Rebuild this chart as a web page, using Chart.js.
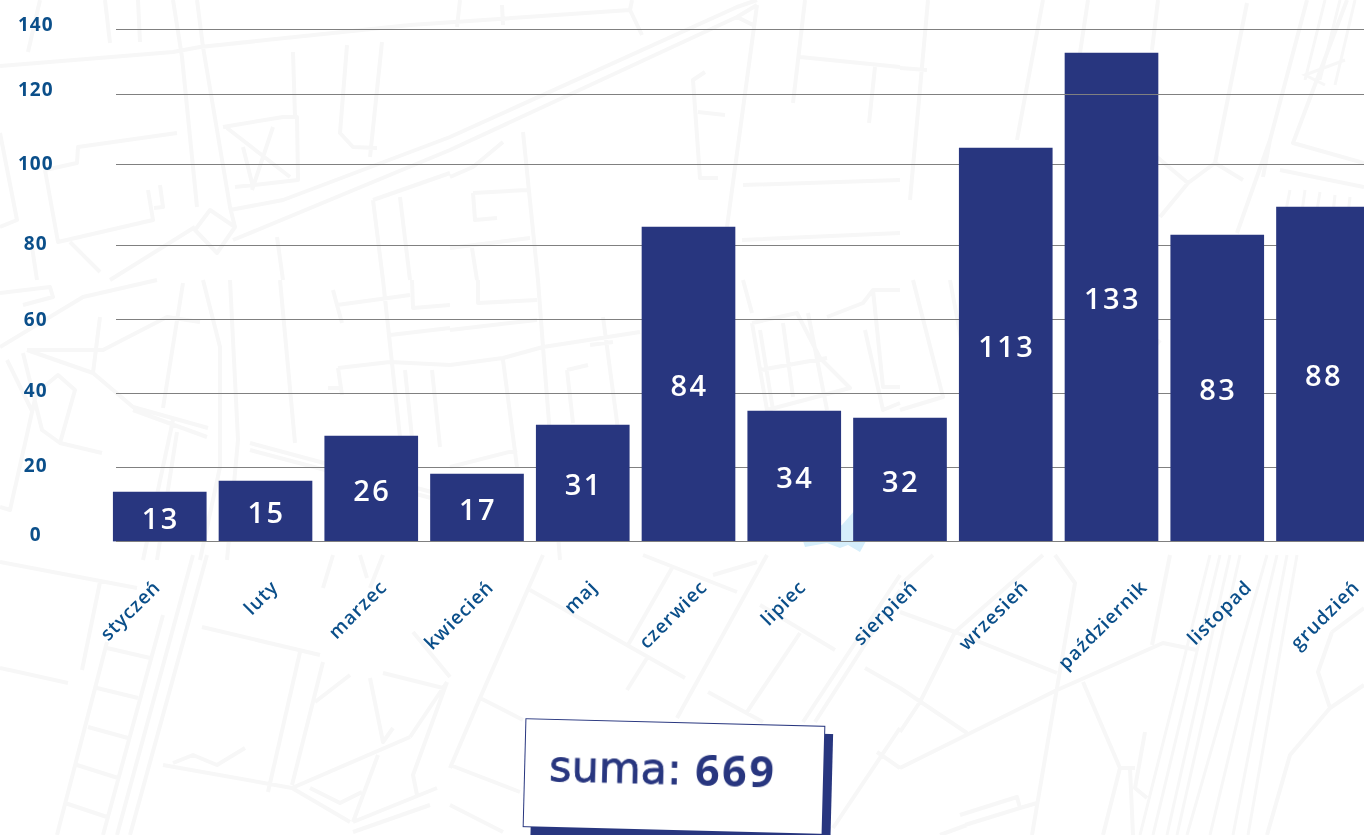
<!DOCTYPE html>
<html lang="pl">
<head>
<meta charset="utf-8">
<title>Wykres</title>
<script src="https://cdn.jsdelivr.net/npm/chart.js@4/dist/chart.umd.min.js"></script>
<style>
html,body{margin:0;padding:0;width:1364px;height:835px;overflow:hidden;background:#fff}
#map{position:absolute;left:0;top:0;width:1364px;height:835px;z-index:0}
#wrap{position:absolute;left:0;top:0;width:1400px;height:835px;z-index:1}
#box{position:absolute;left:524px;top:721.5px;width:298px;height:106.5px;z-index:2;background:#fff;border:1.5px solid #28367f;
 transform:rotate(1.47deg);box-shadow:8px 8px 0 #28367f;color:#28367f}
#box span{position:absolute;white-space:nowrap;line-height:1}
#s1{left:24px;top:25px;font:400 43px "DejaVu Sans",sans-serif;-webkit-text-stroke:.8px #28367f}
#s2{left:170px;top:24px;font:700 43px "Open Sans",sans-serif;letter-spacing:2.5px}
</style>
</head>
<body>
<svg id="map" viewBox="0 0 1364 835" xmlns="http://www.w3.org/2000/svg">
<g fill="none" stroke="#f7f7f7" stroke-width="4" stroke-linejoin="round">
<path d="M0 66L173 52L200 47L410 25L630 10M630 10L642 35M632 0L630 10M460 0L457 27M502 5L503 25
M173 0L182 57L197 207M197 0L203 47L230 207L235 227M105 0L110 43M138 0L140 42M40 0L28 52
M223 127L283 117L297 117L298 180L235 187M227 128L290 177M273 127L252 190M243 147L253 187M293 52L295 117
M347 45L340 133L353 147L377 148M382 42L370 157
M230 210L283 200L450 137L737 7L757 0M233 240L450 150L737 17L757 5M737 17L753 25M373 200L450 173
M373 200L383 280M400 197L410 280
M45 170L77 163L78 147L177 133M45 170L58 242L153 220L148 190M160 185L163 207L154 208M0 133L17 220L0 227
M210 210L235 227L217 253L195 230Z
M195 227L110 280M70 242L100 272M277 237L283 280M32 247L37 280
M0 347L83 297L157 280M0 293L50 287L53 297L23 305
M27 350L103 350L167 317L200 322M27 350L93 373L133 407L208 428M100 317L93 373M183 283L163 408
M133 410L207 437M173 420L143 560M177 432L157 560
M203 280L220 347L220 467L200 560M230 280L238 440L227 560M280 280L295 443
M23 353L42 430L60 443L102 453M40 390L58 375L75 390L60 443M7 360L33 413M37 390L10 510L0 507
M250 443L450 497M250 450L450 503
M333 290L337 305L410 295M337 305L342 323M383 280L400 437M412 280L413 308L450 305
M390 335L450 328M338 368L390 362L450 365M338 368L342 395M328 388L342 388M405 370L413 447M432 370L440 447
M0 562L137 588M100 582L82 670M0 668L68 683
M107 642L57 835M163 615L103 835M107 648L150 658M97 688L138 698M88 727L128 738M77 765L118 778M65 803L107 817
M193 555L117 835M207 555L130 835
M202 627L320 655M300 652L268 792M323 662L292 785
M163 765L292 788L350 822M173 763L193 755L217 765L245 748
M292 788L410 737M410 737L447 682M447 682L413 775L417 795
M370 678L383 742L393 728M378 755L353 822M350 675L315 702M383 673L443 688
M353 822L437 788M353 832L430 805M310 788L340 803L362 792
M413 632L450 677M333 555L323 588M383 555L370 588M360 555L367 578
M543 555L480 698L450 768M530 590L685 678M672 568L628 645M647 658L627 690
M767 555L677 718M760 605L835 650M800 633L747 712M708 692L763 722
M900 575L803 722M900 590L815 722M480 698L523 720M450 765L520 792M450 805L503 832
M643 555L737 592M713 575L757 562M865 668L900 688M900 728L833 828M877 752L900 768
M900 612L955 632L1057 673M955 632L920 702L900 732M955 632L1043 555M933 555L900 585
M1055 555L1075 583L1057 688L1032 835M900 768L1057 690L1163 643L1197 650M900 688L967 733M1170 555L1152 645
M1083 682L1120 768L1103 835M1120 768L1135 768M1145 732L1135 788L1147 798M1130 768L1133 835
M960 815L1017 797L1020 808L965 825M1020 808L1037 803M940 835L967 825
M1332 632L1318 672L1330 708L1290 755L1267 835M1332 632L1364 608M1330 708L1364 685
M928 0L910 200M900 68L927 70M1043 0L1017 140M1088 0L1080 53M1158 0L1152 50
M1247 3L1215 163L1188 183L1160 217M1215 163L1243 180M1188 183L1157 157
M1307 0L1270 140L1237 233M1347 0L1293 143L1364 163M1280 170L1364 187M1270 140L1263 177
M757 5L727 227M805 0L793 103M800 57L900 67M875 67L869 123M705 72L693 80L700 178L718 178M698 112L725 115
M743 185L900 180M742 240L900 233M450 177L473 167L503 142M523 132L538 280M473 193L527 190M473 193L475 220L497 218M450 248L530 238M472 248L477 280
M538 280L543 347L560 560M478 280L478 303L537 300M450 330L537 320M450 365L503 358L543 347L640 332M503 360L517 467
M603 317L623 467M567 370L588 365M567 370L573 423M590 345L613 342M450 467L517 450
M743 280L752 313M752 323L797 313L820 358L850 388L767 410L752 323M760 330L773 410M783 323L793 397M760 370L827 358M808 313L827 410
M865 330L883 410L900 403M900 290L873 290L863 303L827 317M873 290L883 387L900 387
M913 280L943 397L900 410M950 280L980 440M1160 340L1100 420"/>
</g>
<g fill="none" stroke="#f7f7f7" stroke-width="3">
<path d="M1210 555L1140 835M1220 555L1153 835M1230 555L1167 835M1240 555L1177 835M1267 555L1187 835M1277 555L1210 835M1287 555L1233 835M1297 555L1248 835
M1340 0L1320 80M1325 0L1305 80M1355 0L1335 85M1345 60L1305 75L1325 85M1290 190L1280 240M1305 190L1298 240M1320 192L1312 240M1335 195L1330 240M1350 197L1345 240"/>
</g>
<path d="M803 541L805 547L827 543L840 548L848 545L860 552L866 541L855 510L842 525Z" fill="#d5eefb"/>
</svg>
<div id="wrap"><canvas id="c" width="1400" height="835"></canvas></div>
<div id="box"><span id="s1">suma:</span><span id="s2">669</span></div>
<script>
// Categories and values as printed in the chart
const categories = ["styczeń","luty","marzec","kwiecień","maj","czerwiec","lipiec","sierpień","wrzesień","październik","listopad","grudzień"];
const printedValues = [13,15,26,17,31,84,34,32,113,133,83,88];
// Bar heights as drawn, read against the evenly spaced lower gridlines
const barHeights = [13.38,16.35,28.51,18.24,31.49,85,35.27,33.38,106.35,132.03,82.84,90.41];
// Axis labels, the places they sit, and the places the gridlines sit
const tickLabels = [0,20,40,60,80,100,120,140];
const tickPlaces = [1.63,20.23,40.43,59.73,80.13,101.93,121.93,139.43];
const gridPlaces = [0,20,40,60,80,101.89,120.81,138.38];

const NAVY = "#28367f", TICK = "#0b4f8a", GRID = "#808080";
const labelNudge = [-2,10,13,14,12,16,9,15,20,33,32,34];
const AXIS_BOTTOM = 541.5, AXIS_MAX = 146.35;

const look = {
  id: "look",
  afterLayout(chart) {
    const y = chart.scales.y;
    y.top = 0; y.bottom = AXIS_BOTTOM; y.height = AXIS_BOTTOM;
    y.min = 0; y.max = AXIS_MAX;
    y.configure();
    y._labelItems = null;
    chart.chartArea.top = 0;
    chart.chartArea.height = AXIS_BOTTOM;
  },
  beforeDraw(chart) {
    const ctx = chart.ctx;
    ctx.letterSpacing = "1px";
    chart.scales.x.getLabelItems().forEach((it, i) => {
      if (it.nudged) return;
      it.nudged = true;
      it.options.translation[0] += labelNudge[i];
    });
  },
  beforeDatasetsDraw(chart) { lines(chart, gridPlaces.slice(1)); },
  afterDatasetsDraw(chart) {
    lines(chart, [gridPlaces[0], gridPlaces[6]]);
    const ctx = chart.ctx;
    ctx.save();
    ctx.letterSpacing = "2.5px";
    ctx.font = '600 29px "Open Sans", sans-serif';
    ctx.fillStyle = "#fff";
    ctx.textAlign = "center";
    ctx.textBaseline = "middle";
    chart.getDatasetMeta(0).data.forEach((bar, i) => {
      ctx.fillText(String(printedValues[i]), bar.x + 1, (bar.y + bar.base) / 2 + 3.5);
    });
    ctx.restore();
  }
};
function lines(chart, places) {
  const ctx = chart.ctx, y = chart.scales.y;
  ctx.save();
  ctx.strokeStyle = GRID;
  ctx.lineWidth = 1;
  places.forEach(v => {
    const py = Math.round(y.getPixelForValue(v) - 0.5) + 0.5;
    ctx.beginPath();
    ctx.moveTo(116, py);
    ctx.lineTo(chart.width, py);
    ctx.stroke();
  });
  ctx.restore();
}

new Chart(document.getElementById("c"), {
  type: "bar",
  data: {
    labels: categories,
    datasets: [{ data: barHeights, backgroundColor: NAVY, borderWidth: 0, barThickness: 93 }]
  },
  plugins: [look],
  options: {
    responsive: false,
    animation: false,
    layout: { padding: { left: 0, right: 24.125, top: 0, bottom: 0 } },
    plugins: { legend: { display: false }, tooltip: { enabled: false }, title: { display: false } },
    scales: {
      x: {
        grid: { display: false, drawTicks: false },
        border: { display: false },
        afterFit(s) { s.height = 293.5; },
        ticks: {
          autoSkip: false, minRotation: 45, maxRotation: 45, padding: 35,
          color: TICK, font: { family: '"Open Sans", sans-serif', size: 19, weight: "600" }
        }
      },
      y: {
        min: 0, max: AXIS_MAX,
        grid: { display: false, drawTicks: false },
        border: { display: false },
        afterFit(s) { s.width = 106.875; },
        afterBuildTicks(s) { s.ticks = tickPlaces.map(v => ({ value: v })); },
        ticks: {
          autoSkip: false, crossAlign: "center", padding: 54.85,
          color: TICK, font: { family: '"Open Sans", sans-serif', size: 19, weight: "700" },
          callback(v, i) { return String(tickLabels[i]); }
        }
      }
    }
  }
});
</script>
</body>
</html>
